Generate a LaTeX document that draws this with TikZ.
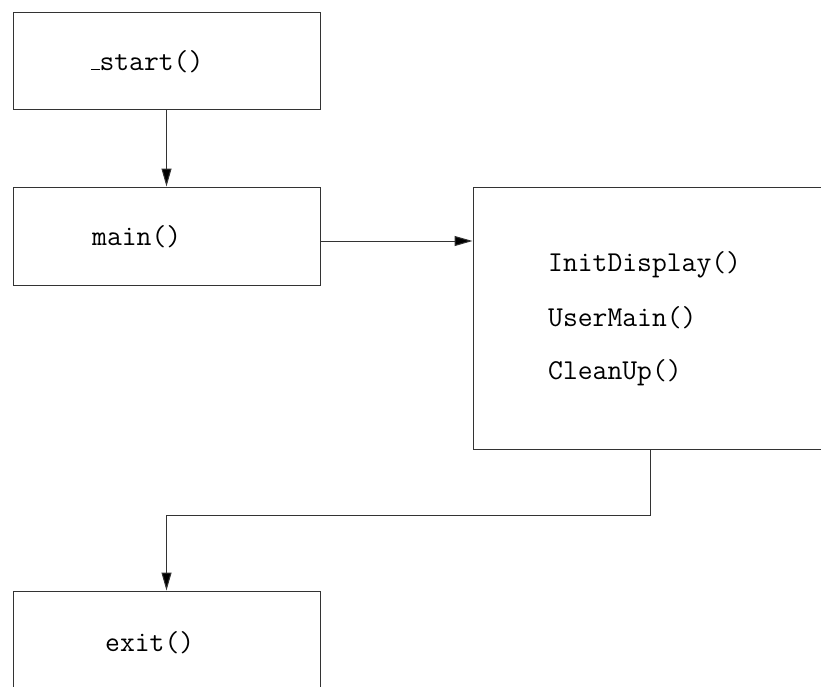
\documentclass[tikz,border=0pt]{standalone}
\usetikzlibrary{arrows.meta}
% short low bar, as the classic text underscore
\newcommand{\lowbar}{\kern0.06em\rule[-0.01em]{0.3em}{1pt}}
\begin{document}
\begin{tikzpicture}[x=1pt,y=-1pt,
  box/.style={draw=black!80,line width=1pt,rectangle,inner sep=0pt},
  lbl/.style={anchor=base west,inner sep=0pt,font=\fontsize{28.8}{34}\selectfont\ttfamily},
  conn/.style={draw=black!80,line width=1pt},
  arr/.style={conn,-{Triangle[length=18pt,width=10pt,fill=black]}}]
  \useasboundingbox (0,0) rectangle (821,686);
  \clip (0,0) rectangle (821,686);
  % boxes
  \node[box,minimum width=307pt,minimum height=97pt] (start) at (166.5,60.5) {};
  \node[box,minimum width=307pt,minimum height=98pt] (main) at (166.5,236) {};
  \node[box,minimum width=427pt,minimum height=262pt] (calls) at (686.5,318) {};
  \node[box,minimum width=307pt,minimum height=148pt] (exit) at (166.5,665) {};
  % texts
  \node[lbl] (tstart) at (89,70) {\lowbar start()};
  \node[lbl] (tmain) at (92,245) {main()};
  \node[lbl] (tinit) at (548,271) {InitDisplay()};
  \node[lbl] (tuser) at (548,326) {UserMain()};
  \node[lbl] (tclean) at (548,379) {CleanUp()};
  \node[lbl] (texit) at (105,651) {exit()};
  % connectors
  \coordinate (bend) at (650,515);
  \draw[arr] (start.south) -- (main.north);
  \draw[arr] ([yshift=-5pt]main.east) -- ([yshift=-5pt]main.east -| calls.west);
  \draw[arr] (calls.south -| bend) -- (bend) -| (exit.north);
\end{tikzpicture}
\end{document}
